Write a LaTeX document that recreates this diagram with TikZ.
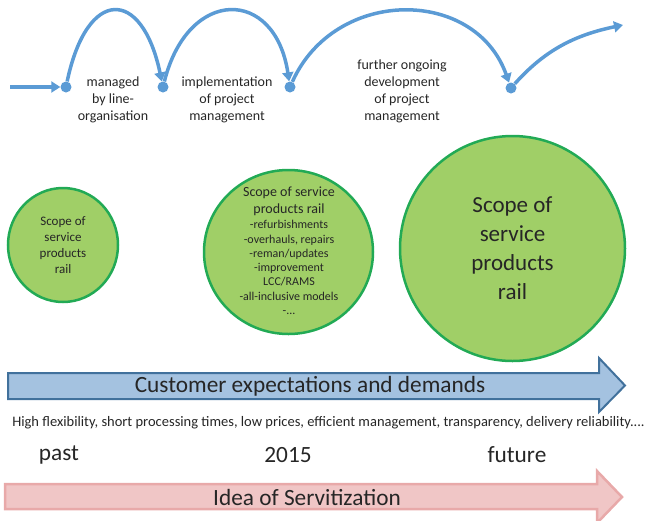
\documentclass[tikz,border=0pt]{standalone}
\usepackage{fontspec}
\setmainfont{Carlito}
\usetikzlibrary{arrows.meta,shapes.geometric}
\definecolor{curveblue}{HTML}{5B9BD5}
\definecolor{txt}{HTML}{262626}
\definecolor{gfill}{HTML}{A0CF67}
\definecolor{gdraw}{HTML}{22AA55}
\definecolor{bfill}{HTML}{A4C2E0}
\definecolor{bdraw}{HTML}{41719C}
\definecolor{pfill}{HTML}{F0C6C6}
\definecolor{pdraw}{HTML}{E8A9A9}
\tikzset{
  dotnode/.style={circle,fill=curveblue,inner sep=0pt,minimum size=11pt},
  flow/.style={draw=curveblue,line width=3.5pt,-{Triangle[length=9pt,width=11pt]}},
  lbl/.style={text=txt,align=center,inner sep=0pt,font=\fontsize{14}{17}\selectfont},
  scope/.style={ellipse,draw=gdraw,fill=gfill,line width=2.5pt,inner sep=0pt},
  big/.style={text=txt,inner sep=0pt,font=\fontsize{23.3}{28}\selectfont},
}
\begin{document}
\begin{tikzpicture}[x=1pt,y=-1pt]
\useasboundingbox (0,0) rectangle (648,520);
% top process curve
\coordinate (s) at (10,87);
\node[dotnode] (d1) at (66,87) {};
\node[dotnode] (d2) at (163,87) {};
\node[dotnode] (d3) at (290,87) {};
\node[dotnode] (d4) at (511,88) {};
\coordinate (e) at (623,25);
\draw[flow] (s) -- (d1);
\draw[flow] (d1) .. controls (87,-13) and (142,-13) .. (d2);
\draw[flow] (d2) .. controls (188,-13) and (275,-13) .. (d3);
\draw[flow] (d3) .. controls (335,-13) and (475,-13) .. (d4);
\draw[flow] (d4) .. controls (545,50) and (575,35) .. (e);
\node[lbl] (l1) at (113,100) {managed\\by line-\\organisation};
\node[lbl] (l2) at (227,100) {implementation\\of project\\management};
\node[lbl] (l3) at (402,91) {further ongoing\\development\\of project\\management};
% circles
\node[scope,minimum width=110pt,minimum height=114pt] (c1) at (63,245) {};
\node[text=txt,align=center,inner sep=0pt,font=\fontsize{13}{16}\selectfont] (t1) at (c1.center) {Scope of\\service\\products\\rail};
\node[scope,minimum width=169pt,minimum height=164pt] (c2) at (288.5,252) {};
\node[text=txt,align=center,inner sep=0pt,font=\fontsize{14}{17}\selectfont] (t2a) at (289,201) {Scope of service\\products rail};
\node[text=txt,align=center,inner sep=0pt,font=\fontsize{12}{14.3}\selectfont] (t2b) at (289,267.5) {-refurbishments\\-overhauls, repairs\\-reman/updates\\-improvement\\LCC/RAMS\\-all-inclusive models\\-...};
\node[scope,minimum width=225pt,minimum height=225pt] (c3) at (512.5,248.5) {};
\node[text=txt,align=center,inner sep=0pt,font=\fontsize{23}{29}\selectfont] (t3) at (c3.center) {Scope of\\service\\products\\rail};
% blue arrow
\draw[draw=bdraw,fill=bfill,line width=2pt,line join=miter]
  (8,373) -- (599,373) -- (599,358) -- (625,385.5) -- (599,412) -- (599,399) -- (8,399) -- cycle;
\node[big] (cust) at (310,386) {Customer expectations and demands};
\node[text=txt,inner sep=0pt,font=\fontsize{14.5}{17}\selectfont] (hf) at (328.5,423) {High flexibility, short processing times, low prices, efficient management, transparency, delivery reliability....};
\node[big] (past) at (59,455) {past};
\node[big] (y15) at (288,455) {2015};
\node[big] (fut) at (517,455) {future};
% pink arrow
\draw[draw=pdraw,fill=pfill,line width=2.5pt,line join=miter]
  (5,484) -- (597,484) -- (597,471) -- (622,497) -- (597,523) -- (597,509) -- (5,509) -- cycle;
\node[big] (idea) at (307,497) {Idea of Servitization};
\end{tikzpicture}
\end{document}
